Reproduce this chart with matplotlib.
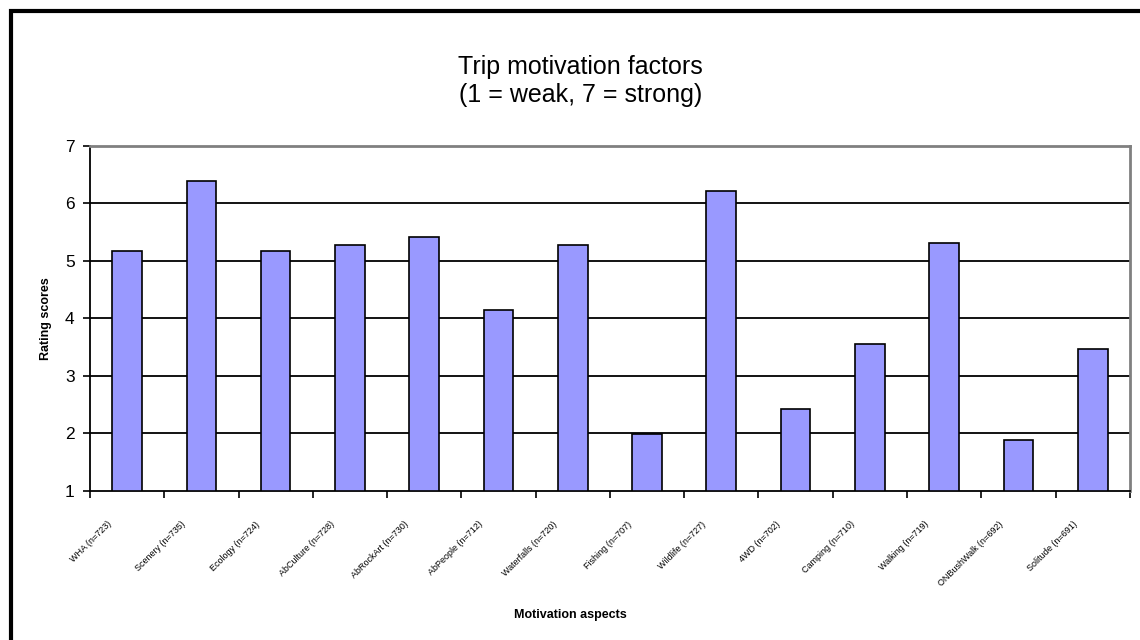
import matplotlib.pyplot as plt
import numpy as np
from matplotlib.patches import Rectangle

plt.rcParams['font.family'] = ['Liberation Sans', 'DejaVu Sans']

aspects = ['WHA (n=723)', 'Scenery (n=735)', 'Ecology (n=724)', 'AbCulture (n=728)',
           'AbRockArt (n=730)', 'AbPeople (n=712)', 'Waterfalls (n=720)', 'Fishing (n=707)',
           'Wildlife (n=727)', '4WD (n=702)', 'Camping (n=710)', 'Walking (n=719)',
           'ONBushWalk (n=692)', 'Solitude (n=691)']
scores = [5.17, 6.39, 5.17, 5.28, 5.42, 4.15, 5.28, 1.99, 6.22, 2.43, 3.56, 5.31, 1.89, 3.47]
y_ticks = [1, 2, 3, 4, 5, 6, 7]

fig = plt.figure(figsize=(11.4, 6.4), dpi=100)
ax = fig.add_axes([0.0789, 0.233, 0.9122, 0.539])

x = np.arange(len(aspects))
ax.bar(x, [s - 1 for s in scores], bottom=1, width=0.4, color='#9999FF',
       edgecolor='black', linewidth=1.2, zorder=3)

ax.set_xlim(-0.5, len(aspects) - 0.5)
ax.set_ylim(1, 7)
ax.set_yticks(y_ticks)
ax.tick_params(axis='y', labelsize=12.5, length=5, width=1.2, direction='out', pad=6)
for yv in y_ticks[1:-1]:
    ax.axhline(yv, color='black', linewidth=1.3, zorder=1)

# category boundaries carry the ticks, labels sit under the bar centres
ax.set_xticks(np.arange(len(aspects) + 1) - 0.5)
ax.set_xticklabels([])
ax.tick_params(axis='x', length=5, width=1.2, direction='out')
for i, name in enumerate(aspects):
    ax.text(i - 0.27, 0.5, name, rotation=45, ha='right', va='top', fontsize=6.5,
            rotation_mode='anchor', transform=ax.transData, clip_on=False)

ax.spines['left'].set_linewidth(1.3)
ax.spines['bottom'].set_linewidth(1.3)
ax.spines['top'].set_color('#808080')
ax.spines['right'].set_color('#808080')
ax.spines['top'].set_linewidth(2)
ax.spines['right'].set_linewidth(2)

ax.set_ylabel('Rating scores', fontsize=9, fontweight='bold', labelpad=9)
fig.text(0.5, 0.034, 'Motivation aspects', ha='center', fontsize=9, fontweight='bold')
fig.text(0.509, 0.874, 'Trip motivation factors\n(1 = weak, 7 = strong)', ha='center',
         va='center', fontsize=18, linespacing=1.22)

# outer chart frame
fig.patches.append(Rectangle((11 / 1140, -0.1), 1.2, 1 - 11 / 640 + 0.1,
                             transform=fig.transFigure, fill=False,
                             edgecolor='black', linewidth=3))

fig.savefig('out.png', dpi=100)
